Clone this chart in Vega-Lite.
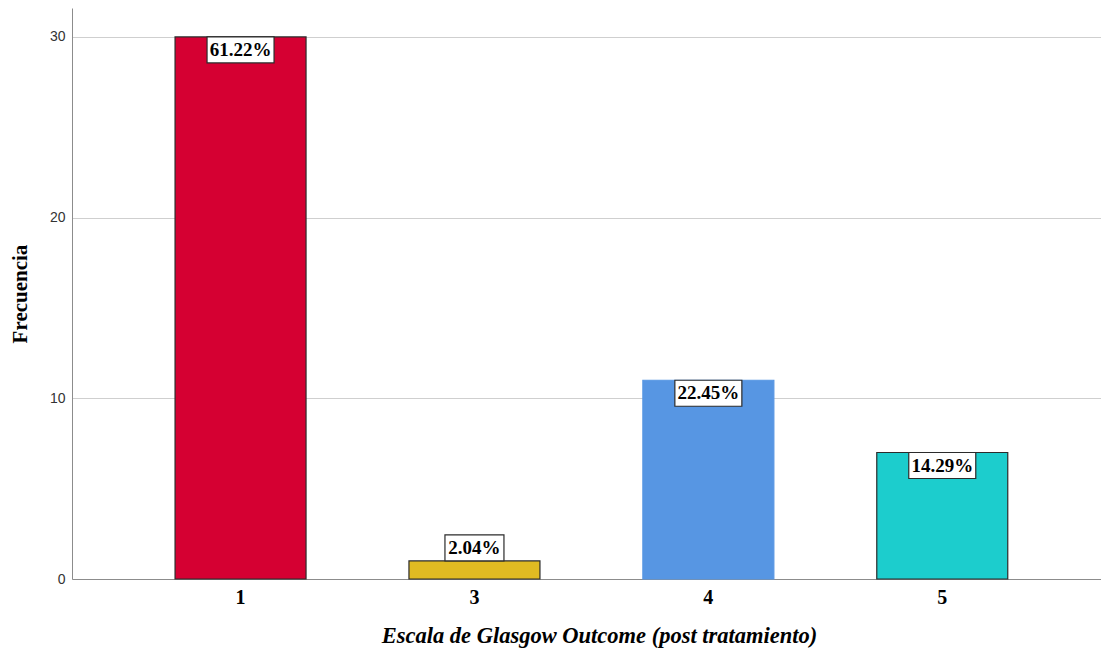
{
  "$schema": "https://vega.github.io/schema/vega-lite/v6.json",
  "width": 1029,
  "height": 571,
  "autosize": {"type": "none"},
  "padding": {"left": 72, "top": 8, "right": 0, "bottom": 71},
  "background": "white",
  "data": {
    "values": [
      {"gos": "1", "frecuencia": 30, "porcentaje": "61.22%"},
      {"gos": "3", "frecuencia": 1, "porcentaje": "2.04%"},
      {"gos": "4", "frecuencia": 11, "porcentaje": "22.45%"},
      {"gos": "5", "frecuencia": 7, "porcentaje": "14.29%"}
    ]
  },
  "config": {
    "view": {"stroke": null},
    "axis": {"domainColor": "#8c8c8c", "gridColor": "#cfcfcf", "ticks": false}
  },
  "encoding": {
    "x": {
      "field": "gos",
      "type": "nominal",
      "sort": ["1", "3", "4", "5"],
      "scale": {"paddingInner": 0.44, "paddingOuter": 0.4196, "align": 0.525},
      "axis": {
        "title": "Escala de Glasgow Outcome (post tratamiento)",
        "titleFont": "Liberation Serif",
        "titleFontSize": 22.5,
        "titleFontStyle": "italic",
        "titleFontWeight": "bold",
        "titleColor": "#000000",
        "titleX": 527,
        "titleY": 56,
        "titleBaseline": "middle",
        "labelAngle": 0,
        "labelFont": "Liberation Serif",
        "labelFontSize": 20,
        "labelFontWeight": "bold",
        "labelColor": "#000000",
        "labelPadding": 8,
        "grid": false
      }
    },
    "y": {
      "field": "frecuencia",
      "type": "quantitative",
      "scale": {"domain": [0, 31.6], "nice": false},
      "axis": {
        "title": "Frecuencia",
        "values": [0, 10, 20, 30],
        "titleFont": "Liberation Serif",
        "titleFontSize": 21,
        "titleFontWeight": "bold",
        "titleColor": "#000000",
        "titleAngle": -90,
        "titleAlign": "center",
        "titleBaseline": "middle",
        "titleX": -52,
        "titleY": 285.5,
        "labelFont": "Liberation Sans",
        "labelFontSize": 14,
        "labelColor": "#333333",
        "labelPadding": 7,
        "grid": true
      }
    }
  },
  "layer": [
    {
      "mark": {"type": "bar", "strokeWidth": 1.2},
      "encoding": {
        "color": {
          "field": "gos",
          "type": "nominal",
          "scale": {"domain": ["1", "3", "4", "5"], "range": ["#d50032", "#e1bb22", "#5796e3", "#1ccdcd"]},
          "legend": null
        },
        "stroke": {
          "field": "gos",
          "type": "nominal",
          "scale": {"domain": ["1", "3", "4", "5"], "range": ["#2b2b2b", "#2b2b2b", "#5796e3", "#2b2b2b"]},
          "legend": null
        },
        "opacity": {"value": 1}
      }
    },
    {
      "transform": [{"filter": "datum.frecuencia >= 3"}],
      "mark": {"type": "bar", "width": 67, "fill": "white", "stroke": "#2b2b2b", "strokeWidth": 1.2, "yOffset": 0, "y2Offset": 26},
      "encoding": {"y2": {"field": "frecuencia"}}
    },
    {
      "transform": [{"filter": "datum.frecuencia < 3"}],
      "mark": {"type": "bar", "width": 59, "fill": "white", "stroke": "#2b2b2b", "strokeWidth": 1.2, "yOffset": -26, "y2Offset": 0},
      "encoding": {"y2": {"field": "frecuencia"}}
    },
    {
      "transform": [{"filter": "datum.frecuencia >= 3"}],
      "mark": {"type": "text", "font": "Liberation Serif", "fontSize": 19, "fontWeight": "bold", "color": "#000000", "baseline": "middle", "dy": 13},
      "encoding": {"text": {"field": "porcentaje"}}
    },
    {
      "transform": [{"filter": "datum.frecuencia < 3"}],
      "mark": {"type": "text", "font": "Liberation Serif", "fontSize": 19, "fontWeight": "bold", "color": "#000000", "baseline": "middle", "dy": -13},
      "encoding": {"text": {"field": "porcentaje"}}
    }
  ]
}
